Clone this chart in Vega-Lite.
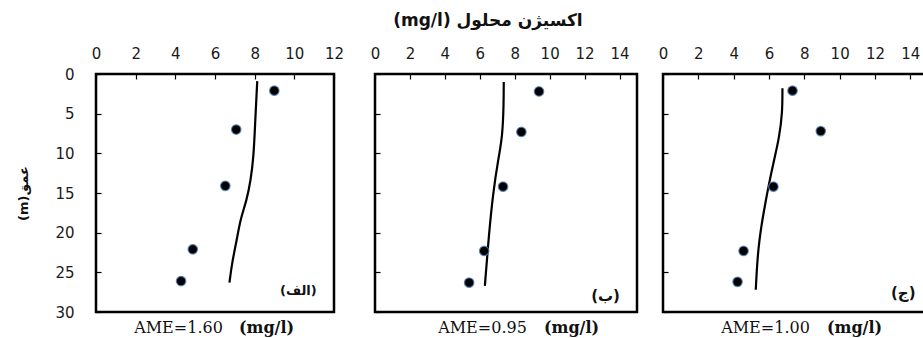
{
  "$schema": "https://vega.github.io/schema/vega-lite/v6.json",
  "background": "white",
  "padding": {"left": 16, "top": 11, "right": 0, "bottom": 0},
  "title": {"text": "(mg/l) اکسیژن محلول", "anchor": "middle", "frame": "bounds", "dx": 15, "offset": -2, "baseline": "bottom", "font": "DejaVu Sans", "fontSize": 17, "fontWeight": "bold", "color": "#111"},
  "spacing": 12,
  "datasets": {
    "obs": [
      {"panel": "a", "oxygen": 8.99, "depth": 2.1},
      {"panel": "a", "oxygen": 7.07, "depth": 7.0},
      {"panel": "a", "oxygen": 6.52, "depth": 14.1},
      {"panel": "a", "oxygen": 4.88, "depth": 22.1},
      {"panel": "a", "oxygen": 4.29, "depth": 26.1},
      {"panel": "b", "oxygen": 9.39, "depth": 2.2},
      {"panel": "b", "oxygen": 8.38, "depth": 7.3},
      {"panel": "b", "oxygen": 7.33, "depth": 14.2},
      {"panel": "b", "oxygen": 6.25, "depth": 22.3},
      {"panel": "b", "oxygen": 5.39, "depth": 26.3},
      {"panel": "c", "oxygen": 7.33, "depth": 2.1},
      {"panel": "c", "oxygen": 8.93, "depth": 7.2},
      {"panel": "c", "oxygen": 6.25, "depth": 14.2},
      {"panel": "c", "oxygen": 4.56, "depth": 22.3},
      {"panel": "c", "oxygen": 4.22, "depth": 26.2}
    ],
    "model": [
      {"panel": "a", "oxygen": 8.13, "depth": 0.9},
      {"panel": "a", "oxygen": 8.03, "depth": 5.8},
      {"panel": "a", "oxygen": 7.95, "depth": 10.4},
      {"panel": "a", "oxygen": 7.8, "depth": 13.4},
      {"panel": "a", "oxygen": 7.6, "depth": 15.9},
      {"panel": "a", "oxygen": 7.27, "depth": 18.4},
      {"panel": "a", "oxygen": 7.1, "depth": 20.9},
      {"panel": "a", "oxygen": 6.85, "depth": 23.9},
      {"panel": "a", "oxygen": 6.73, "depth": 26.3},
      {"panel": "b", "oxygen": 7.37, "depth": 1.0},
      {"panel": "b", "oxygen": 7.37, "depth": 3.6},
      {"panel": "b", "oxygen": 7.3, "depth": 7.9},
      {"panel": "b", "oxygen": 7.05, "depth": 10.8},
      {"panel": "b", "oxygen": 6.76, "depth": 15.0},
      {"panel": "b", "oxygen": 6.53, "depth": 20.0},
      {"panel": "b", "oxygen": 6.29, "depth": 26.7},
      {"panel": "c", "oxygen": 6.76, "depth": 1.8},
      {"panel": "c", "oxygen": 6.76, "depth": 4.9},
      {"panel": "c", "oxygen": 6.57, "depth": 8.1},
      {"panel": "c", "oxygen": 6.29, "depth": 10.8},
      {"panel": "c", "oxygen": 6.01, "depth": 13.7},
      {"panel": "c", "oxygen": 5.72, "depth": 17.1},
      {"panel": "c", "oxygen": 5.38, "depth": 21.7},
      {"panel": "c", "oxygen": 5.25, "depth": 27.2}
    ]
  },
  "hconcat": [
    {
      "width": 238, "height": 238,
      "resolve": {"axis": {"x": "independent"}},
      "layer": [
        {
          "data": {"name": "model"},
          "transform": [{"filter": "datum.panel == 'a'"}],
          "mark": {"type": "line", "color": "#000", "strokeWidth": 2.2, "interpolate": "basis"},
          "encoding": {
            "x": {"field": "oxygen", "type": "quantitative", "scale": {"domain": [0, 12]},
                  "axis": {"orient": "bottom", "labels": false, "ticks": false, "title": "AME=1.60", "titleX": 82, "titleY": 15, "titleAlign": "center", "titleBaseline": "middle", "titleFont": "DejaVu Serif", "titleFontSize": 16, "titleFontWeight": "normal"}},
            "y": {"field": "depth", "type": "quantitative", "scale": {"domain": [0, 30], "reverse": true},
                  "axis": {"values": [0, 5, 10, 15, 20, 25, 30], "labelPadding": 27, "tickSize": -5, "title": "(m)عمق", "titlePadding": 24}},
            "order": {"field": "depth", "type": "quantitative"}
          }
        },
        {
          "data": {"name": "obs"},
          "transform": [{"filter": "datum.panel == 'a'"}],
          "mark": {"type": "circle", "size": 90, "fill": "#000", "opacity": 1, "stroke": "#4f7fb8", "strokeWidth": 1.2, "strokeOpacity": 0.8},
          "encoding": {
            "x": {"field": "oxygen", "type": "quantitative", "scale": {"domain": [0, 12]},
                  "axis": {"orient": "top", "values": [0, 2, 4, 6, 8, 10, 12], "labelPadding": 18, "tickSize": -5, "title": null}},
            "y": {"field": "depth", "type": "quantitative", "scale": {"domain": [0, 30], "reverse": true},
                  "axis": {"values": [0, 5, 10, 15, 20, 25, 30], "labelPadding": 27, "tickSize": -5, "title": "(m)عمق", "titlePadding": 24}}
          }
        },
        {
          "data": {"values": [{"label": "(الف)"}]},
          "mark": {"type": "text", "font": "DejaVu Sans", "fontSize": 13, "fontWeight": "bold", "color": "#111"},
          "encoding": {
            "x": {"datum": 10.2, "type": "quantitative", "scale": {"domain": [0, 12]},
                  "axis": {"orient": "bottom", "labels": false, "ticks": false, "title": "(mg/l)", "titleX": 170, "titleY": 15, "titleAlign": "center", "titleBaseline": "middle", "titleFont": "DejaVu Serif", "titleFontSize": 16, "titleFontWeight": "bold"}},
            "y": {"datum": 27.4, "type": "quantitative", "scale": {"domain": [0, 30], "reverse": true},
                  "axis": {"values": [0, 5, 10, 15, 20, 25, 30], "labelPadding": 27, "tickSize": -5, "title": "(m)عمق", "titlePadding": 24}},
            "text": {"field": "label"}
          }
        }
      ]
    },
    {
      "width": 262, "height": 238,
      "resolve": {"axis": {"x": "independent"}},
      "layer": [
        {
          "data": {"name": "model"},
          "transform": [{"filter": "datum.panel == 'b'"}],
          "mark": {"type": "line", "color": "#000", "strokeWidth": 2.2, "interpolate": "basis"},
          "encoding": {
            "x": {"field": "oxygen", "type": "quantitative", "scale": {"domain": [0, 15]},
                  "axis": {"orient": "bottom", "labels": false, "ticks": false, "title": "AME=0.95", "titleX": 107, "titleY": 15, "titleAlign": "center", "titleBaseline": "middle", "titleFont": "DejaVu Serif", "titleFontSize": 16, "titleFontWeight": "normal"}},
            "y": {"field": "depth", "type": "quantitative", "scale": {"domain": [0, 30], "reverse": true},
                  "axis": {"values": [0, 5, 10, 15, 20, 25, 30], "labels": false, "tickSize": -5, "title": null, "minExtent": 16, "maxExtent": 16}},
            "order": {"field": "depth", "type": "quantitative"}
          }
        },
        {
          "data": {"name": "obs"},
          "transform": [{"filter": "datum.panel == 'b'"}],
          "mark": {"type": "circle", "size": 90, "fill": "#000", "opacity": 1, "stroke": "#4f7fb8", "strokeWidth": 1.2, "strokeOpacity": 0.8},
          "encoding": {
            "x": {"field": "oxygen", "type": "quantitative", "scale": {"domain": [0, 15]},
                  "axis": {"orient": "top", "values": [0, 2, 4, 6, 8, 10, 12, 14], "labelPadding": 18, "tickSize": -5, "title": null}},
            "y": {"field": "depth", "type": "quantitative", "scale": {"domain": [0, 30], "reverse": true},
                  "axis": {"values": [0, 5, 10, 15, 20, 25, 30], "labels": false, "tickSize": -5, "title": null, "minExtent": 16, "maxExtent": 16}}
          }
        },
        {
          "data": {"values": [{"label": "(ب)"}]},
          "mark": {"type": "text", "font": "DejaVu Sans", "fontSize": 15, "fontWeight": "bold", "color": "#111"},
          "encoding": {
            "x": {"datum": 13.2, "type": "quantitative", "scale": {"domain": [0, 15]},
                  "axis": {"orient": "bottom", "labels": false, "ticks": false, "title": "(mg/l)", "titleX": 196, "titleY": 15, "titleAlign": "center", "titleBaseline": "middle", "titleFont": "DejaVu Serif", "titleFontSize": 16, "titleFontWeight": "bold"}},
            "y": {"datum": 28.0, "type": "quantitative", "scale": {"domain": [0, 30], "reverse": true},
                  "axis": {"values": [0, 5, 10, 15, 20, 25, 30], "labels": false, "tickSize": -5, "title": null, "minExtent": 16, "maxExtent": 16}},
            "text": {"field": "label"}
          }
        }
      ]
    },
    {
      "width": 265, "height": 238,
      "resolve": {"axis": {"x": "independent"}},
      "layer": [
        {
          "data": {"name": "model"},
          "transform": [{"filter": "datum.panel == 'c'"}],
          "mark": {"type": "line", "color": "#000", "strokeWidth": 2.2, "interpolate": "basis"},
          "encoding": {
            "x": {"field": "oxygen", "type": "quantitative", "scale": {"domain": [0, 15]},
                  "axis": {"orient": "bottom", "labels": false, "ticks": false, "title": "AME=1.00", "titleX": 102, "titleY": 15, "titleAlign": "center", "titleBaseline": "middle", "titleFont": "DejaVu Serif", "titleFontSize": 16, "titleFontWeight": "normal"}},
            "y": {"field": "depth", "type": "quantitative", "scale": {"domain": [0, 30], "reverse": true},
                  "axis": {"values": [0, 5, 10, 15, 20, 25, 30], "labels": false, "tickSize": -5, "title": null, "minExtent": 10, "maxExtent": 10}},
            "order": {"field": "depth", "type": "quantitative"}
          }
        },
        {
          "data": {"name": "obs"},
          "transform": [{"filter": "datum.panel == 'c'"}],
          "mark": {"type": "circle", "size": 90, "fill": "#000", "opacity": 1, "stroke": "#4f7fb8", "strokeWidth": 1.2, "strokeOpacity": 0.8},
          "encoding": {
            "x": {"field": "oxygen", "type": "quantitative", "scale": {"domain": [0, 15]},
                  "axis": {"orient": "top", "values": [0, 2, 4, 6, 8, 10, 12, 14], "labelPadding": 18, "tickSize": -5, "title": null}},
            "y": {"field": "depth", "type": "quantitative", "scale": {"domain": [0, 30], "reverse": true},
                  "axis": {"values": [0, 5, 10, 15, 20, 25, 30], "labels": false, "tickSize": -5, "title": null, "minExtent": 10, "maxExtent": 10}}
          }
        },
        {
          "data": {"values": [{"label": "(ج)"}]},
          "mark": {"type": "text", "font": "DejaVu Sans", "fontSize": 15, "fontWeight": "bold", "color": "#111"},
          "encoding": {
            "x": {"datum": 13.6, "type": "quantitative", "scale": {"domain": [0, 15]},
                  "axis": {"orient": "bottom", "labels": false, "ticks": false, "title": "(mg/l)", "titleX": 191, "titleY": 15, "titleAlign": "center", "titleBaseline": "middle", "titleFont": "DejaVu Serif", "titleFontSize": 16, "titleFontWeight": "bold"}},
            "y": {"datum": 27.6, "type": "quantitative", "scale": {"domain": [0, 30], "reverse": true},
                  "axis": {"values": [0, 5, 10, 15, 20, 25, 30], "labels": false, "tickSize": -5, "title": null, "minExtent": 10, "maxExtent": 10}},
            "text": {"field": "label"}
          }
        }
      ]
    }
  ],
  "config": {
    "view": {"stroke": "#000", "strokeWidth": 2.5},
    "axis": {
      "domain": false, "grid": false, "tickColor": "#000", "tickWidth": 1.2,
      "labelFont": "DejaVu Sans", "labelFontSize": 15, "labelColor": "#1a1a1a",
      "labelFlush": false, "labelOverlap": false,
      "titleFont": "DejaVu Sans", "titleFontSize": 13, "titleFontWeight": "bold", "titleColor": "#111"
    }
  }
}
